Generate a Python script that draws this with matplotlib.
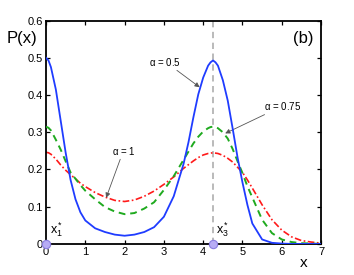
import matplotlib
matplotlib.use("Agg")
import matplotlib.pyplot as plt

plt.rcParams["font.family"] = ["Liberation Sans", "DejaVu Sans"]
plt.rcParams["mathtext.fontset"] = "custom"
plt.rcParams["mathtext.rm"] = "Liberation Sans"
plt.rcParams["mathtext.it"] = "Liberation Sans"

# values
x = [0, 0.0625, 0.125, 0.25, 0.375, 0.5, 0.625, 0.75, 0.875, 1.0, 1.25, 1.5,
     1.75, 2.0, 2.25, 2.5, 2.75, 3.0, 3.25, 3.5, 3.625, 3.75, 3.875, 4.0,
     4.125, 4.1875, 4.25, 4.3125, 4.375, 4.5, 4.625, 4.75, 4.875, 5.0, 5.125,
     5.25, 5.5, 5.75, 6.0, 6.25, 6.5, 6.75, 7.0]
p_half = [0.500, 0.493, 0.475, 0.415, 0.330, 0.245, 0.172, 0.120, 0.085, 0.063,
          0.042, 0.032, 0.025, 0.022, 0.025, 0.032, 0.045, 0.073, 0.128, 0.215,
          0.273, 0.340, 0.402, 0.447, 0.479, 0.488, 0.493, 0.488, 0.479, 0.440,
          0.385, 0.310, 0.232, 0.165, 0.105, 0.055, 0.012, 0.003, 0.001, 0.0,
          0.0, 0.0, 0.0]
p_075 = [0.315, 0.312, 0.305, 0.280, 0.253, 0.222, 0.192, 0.175, 0.158, 0.143,
         0.120, 0.099, 0.087, 0.080, 0.083, 0.095, 0.112, 0.145, 0.182, 0.226,
         0.248, 0.270, 0.288, 0.302, 0.311, 0.314, 0.315, 0.314, 0.311, 0.300,
         0.283, 0.255, 0.222, 0.190, 0.155, 0.125, 0.065, 0.029, 0.012, 0.005,
         0.002, 0.001, 0.0]
p_one = [0.246, 0.245, 0.241, 0.228, 0.212, 0.198, 0.186, 0.175, 0.163, 0.154,
         0.138, 0.126, 0.117, 0.114, 0.118, 0.128, 0.142, 0.160, 0.180, 0.203,
         0.213, 0.223, 0.232, 0.239, 0.243, 0.244, 0.245, 0.244, 0.243, 0.238,
         0.230, 0.220, 0.206, 0.192, 0.172, 0.150, 0.105, 0.065, 0.037, 0.019,
         0.009, 0.005, 0.002]
x_star = [0, 4.25]

fig = plt.figure(figsize=(3.54, 2.75), dpi=100)
ax = fig.add_axes([0.130, 0.113, 0.777, 0.812])

ax.axvline(x_star[1], color="#b4b4b4", ls=(0, (3.5, 2.5)), lw=1.3, zorder=1)
ax.plot(x, p_one, color="#ff1a1a", ls=(0, (4, 1.5, 1, 1.5)), lw=1.2, zorder=2)
ax.plot(x, p_075, color="#1faa1f", ls=(0, (3.5, 2.5)), lw=1.4, zorder=3)
ax.plot(x, p_half, color="#1f3cff", lw=1.3, zorder=4)
ax.plot(x_star, [0, 0], "o", ms=6, mfc="#b7acf5", mec="#8a7ee0", mew=0.8,
        clip_on=False, zorder=6)

arrow = dict(arrowstyle="-|>", color="#555555", lw=0.6, mutation_scale=7,
             shrinkA=0, shrinkB=0)
ax.annotate(r"$\alpha$ = 0.5", xy=(3.91, 0.421), xytext=(3.03, 0.49),
            fontsize=7, ha="center", va="center", arrowprops=arrow)
ax.annotate(r"$\alpha$ = 0.75", xy=(4.56, 0.297), xytext=(6.03, 0.371),
            fontsize=7, ha="center", va="center", arrowprops=arrow)
ax.annotate(r"$\alpha$ = 1", xy=(1.53, 0.124), xytext=(1.97, 0.251),
            fontsize=7, ha="center", va="center", arrowprops=arrow)

ax.text(0.1, 0.012, r"$\mathregular{x_1^*}$", fontsize=9, ha="left", va="bottom")
ax.text(4.33, 0.012, r"$\mathregular{x_3^*}$", fontsize=9, ha="left", va="bottom")

ax.text(-0.087, 0.918, "P(x)", transform=ax.transAxes, fontsize=12,
        ha="center", va="center")
ax.text(0.935, 0.918, "(b)", transform=ax.transAxes, fontsize=12,
        ha="center", va="center")
ax.text(6.55, -0.051, "x", fontsize=11, ha="center", va="center", clip_on=False)

ax.set_xlim(0, 7)
ax.set_ylim(0, 0.6)
ax.set_xticks(range(8))
ax.set_yticks([0, 0.1, 0.2, 0.3, 0.4, 0.5, 0.6])
ax.set_yticklabels(["0", "0.1", "0.2", "0.3", "0.4", "0.5", "0.6"])
ax.tick_params(direction="in", top=True, right=True, length=3, width=0.9,
               labelsize=8, pad=2.5)
for s in ax.spines.values():
    s.set_linewidth(1.3)

fig.savefig("out.png", dpi=100)
